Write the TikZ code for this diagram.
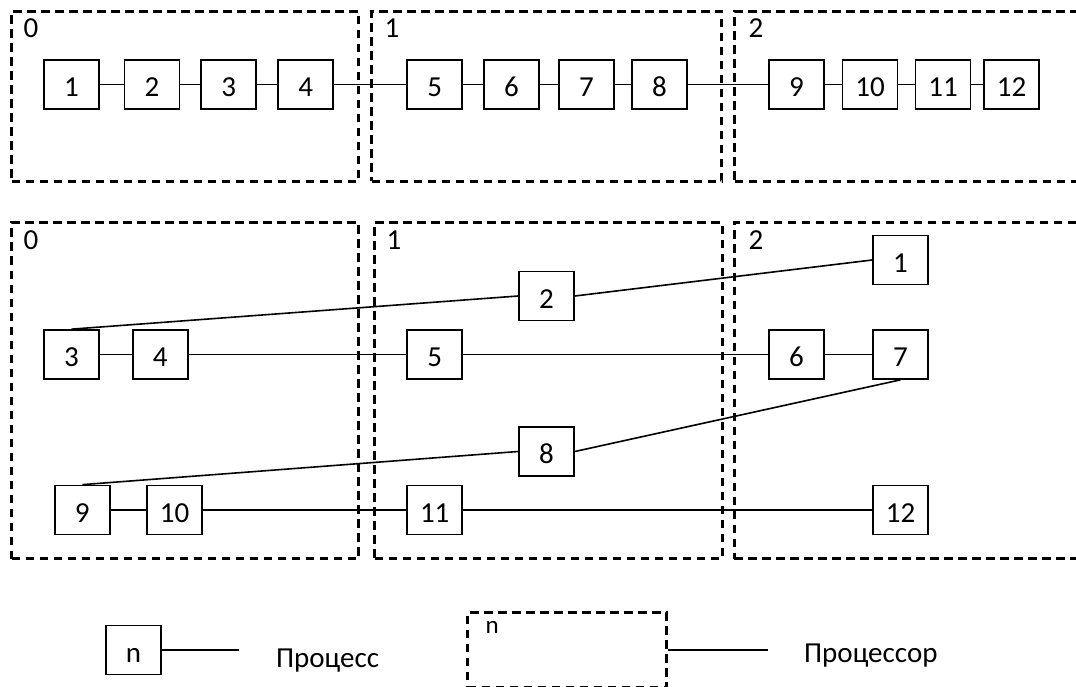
\documentclass[tikz,border=0pt]{standalone}
\usepackage{fontspec}
\setmainfont{Carlito}
\begin{document}
\begin{tikzpicture}[x=1pt,y=-1pt,
  every node/.style={font=\fontsize{29pt}{35pt}\selectfont},
  proc/.style={draw, line width=3pt, dash pattern=on 8.5pt off 5.5pt, rectangle, inner sep=0pt, anchor=north west},
  task/.style={draw, line width=1.7pt, rectangle, minimum width=55pt, minimum height=49pt, inner sep=0pt, text height=24.4pt, text depth=0pt},
  link/.style={line width=1.6pt},
  plabel/.style={anchor=base, inner sep=0pt},
  ltext/.style={anchor=base west, inner sep=0pt}]
\useasboundingbox (0,0) rectangle (1076,687);
\clip (0,0) rectangle (1076,687);
\fill[white] (0,0) rectangle (1076,687);

% processors, top
\node[proc, minimum width=347pt, minimum height=170pt] (pa0) at (10,10) {};
\node[proc, minimum width=350pt, minimum height=170pt] (pa1) at (370,10) {};
\node[proc, minimum width=360pt, minimum height=170pt] (pa2) at (733,10) {};
\node[plabel] (la0) at (31,38) {0};
\node[plabel] (la1) at (392,38) {1};
\node[plabel] (la2) at (756,38) {2};

% processors, bottom
\node[proc, minimum width=347pt, minimum height=336pt] (pb0) at (10,221) {};
\node[proc, minimum width=347.7pt, minimum height=336pt] (pb1) at (373,221) {};
\node[proc, minimum width=360pt, minimum height=336pt] (pb2) at (732.7,221) {};
\node[plabel] (lb0) at (31,249) {0};
\node[plabel] (lb1) at (394,249) {1};
\node[plabel] (lb2) at (756,249) {2};

% top tasks
\node[task] (t1) at (71.5,84.5) {1};
\node[task] (t2) at (152,84.5) {2};
\node[task] (t3) at (228.7,84.5) {3};
\node[task] (t4) at (305.7,84.5) {4};
\node[task] (t5) at (434.7,84.5) {5};
\node[task] (t6) at (511.5,84.5) {6};
\node[task] (t7) at (586.5,84.5) {7};
\node[task] (t8) at (659.5,84.5) {8};
\node[task] (t9) at (796.5,84.5) {9};
\node[task] (t10) at (870,84.5) {10};
\node[task] (t11) at (943,84.5) {11};
\node[task] (t12) at (1011.5,84.5) {12};
\foreach \a/\b in {1/2,2/3,3/4,4/5,5/6,6/7,7/8,8/9,9/10,10/11,11/12}
  \draw[link] (t\a) -- (t\b);

% bottom tasks
\node[task] (u1) at (900.5,260) {1};
\node[task] (u2) at (546.5,296) {2};
\node[task] (u3) at (71.5,354.5) {3};
\node[task] (u4) at (160.3,354.5) {4};
\node[task] (u5) at (434.7,354.5) {5};
\node[task] (u6) at (796.5,354.5) {6};
\node[task] (u7) at (900.5,354.5) {7};
\node[task] (u8) at (546.5,451.5) {8};
\node[task] (u9) at (82.3,510) {9};
\node[task] (u10) at (174.5,510) {10};
\node[task] (u11) at (434.7,510) {11};
\node[task] (u12) at (900.5,510) {12};
\draw[link] (u2.east) -- (u1.west);
\draw[link] (u3.north) -- (u2.west);
\draw[link] (u3) -- (u4);
\draw[link] (u4) -- (u5);
\draw[link] (u5) -- (u6);
\draw[link] (u6) -- (u7);
\draw[link] (u7.south) -- (u8.east);
\draw[link] (u8.west) -- (u9.north);
\draw[link] (u9) -- (u10);
\draw[link] (u10) -- (u11);
\draw[link] (u11) -- (u12);

% legend
\node[task] (ln) at (133.5,650) {n};
\coordinate (lne) at (239,650);
\draw[link] (ln.east) -- (ln.east -| lne);
\node[ltext] (ltp) at (276,667) {Процесс};
\node[proc, minimum width=199pt, minimum height=75pt] (lp) at (466,611) {};
\node[ltext, font=\fontsize{25pt}{30pt}\selectfont] (lpn) at (485.5,633) {n};
\coordinate (lpe) at (768,647);
\draw[link] (lp.east) -- (lp.east -| lpe);
\node[ltext] (ltr) at (804,662) {Процессор};
\end{tikzpicture}
\end{document}
